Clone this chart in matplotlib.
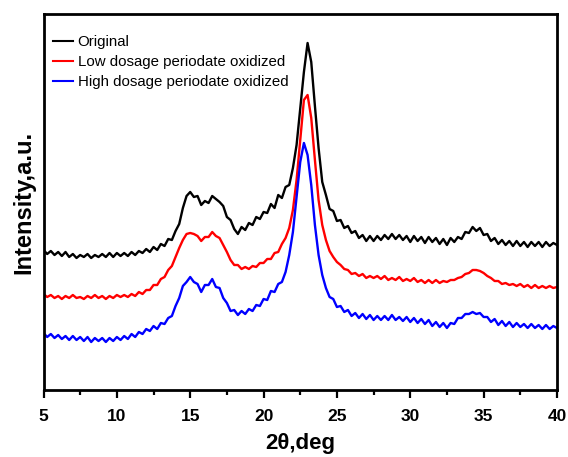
import numpy as np
import matplotlib
matplotlib.use("Agg")
import matplotlib.pyplot as plt
from matplotlib.ticker import MultipleLocator

# 2-theta scan grid (deg)
two_theta = np.arange(5.0, 40.001, 0.25)

# Intensities (a.u.)
original = [
    141, 137, 140, 136, 139, 135, 139, 134, 137, 133, 136, 134,
    137, 133, 136, 134, 137, 134, 138, 134, 138, 135, 138, 135,
    139, 136, 140, 138, 142, 139, 144, 141, 147, 145, 152, 151,
    160, 167, 183, 195, 199, 194, 195, 186, 190, 188, 195, 192,
    189, 185, 174, 171, 162, 157, 164, 161, 168, 166, 174, 172,
    179, 178, 187, 183, 196, 193, 204, 206, 223, 246, 283, 319,
    348, 329, 285, 243, 209, 196, 182, 180, 170, 171, 163, 165,
    158, 160, 153, 156, 150, 155, 150, 155, 151, 156, 152, 157,
    152, 156, 151, 155, 149, 155, 150, 154, 148, 154, 149, 153,
    147, 152, 146, 153, 149, 154, 152, 159, 158, 164, 160, 163,
    156, 157, 150, 153, 147, 151, 146, 150, 145, 150, 145, 149,
    144, 149, 145, 149, 144, 149, 145, 148, 146,
]
low_dosage = [
    97, 94, 96, 93, 95, 92, 95, 93, 96, 93, 94, 92,
    95, 93, 96, 93, 95, 92, 95, 93, 96, 94, 96, 94,
    97, 95, 99, 97, 101, 101, 106, 106, 112, 114, 121, 125,
    134, 143, 151, 157, 158, 157, 155, 150, 154, 154, 159, 155,
    153, 146, 139, 131, 126, 126, 122, 124, 122, 125, 124, 128,
    128, 132, 132, 138, 139, 147, 153, 163, 181, 211, 251, 291,
    296, 273, 231, 191, 166, 151, 140, 134, 129, 126, 122, 121,
    117, 118, 115, 117, 113, 115, 113, 115, 112, 115, 111, 113,
    111, 114, 110, 112, 110, 113, 109, 111, 108, 111, 108, 111,
    108, 110, 109, 111, 111, 113, 114, 117, 118, 121, 121, 120,
    118, 115, 113, 110, 110, 107, 108, 106, 107, 105, 107, 104,
    106, 103, 106, 103, 105, 103, 105, 103, 104,
]
high_dosage = [
    58, 54, 57, 53, 56, 52, 55, 51, 55, 51, 54, 50,
    54, 49, 53, 50, 53, 49, 53, 50, 54, 51, 55, 52,
    57, 54, 59, 57, 62, 60, 65, 62, 68, 67, 73, 75,
    85, 93, 105, 109, 114, 109, 107, 99, 106, 106, 112, 104,
    103, 93, 88, 80, 81, 76, 80, 77, 82, 80, 86, 85,
    92, 91, 100, 99, 107, 109, 119, 136, 159, 194, 229, 248,
    236, 206, 166, 136, 116, 103, 94, 92, 84, 85, 79, 81,
    75, 78, 73, 77, 72, 76, 71, 75, 71, 75, 71, 76,
    71, 74, 70, 74, 69, 73, 68, 72, 67, 71, 65, 69,
    64, 68, 63, 68, 67, 73, 73, 77, 77, 79, 77, 78,
    74, 74, 69, 72, 66, 70, 65, 69, 64, 68, 64, 67,
    63, 67, 63, 66, 62, 66, 62, 65, 63,
]

labels = ["Original", "Low dosage periodate oxidized", "High dosage periodate oxidized"]
colors = ["#000000", "#ff0000", "#0000ff"]
xticks = [5, 10, 15, 20, 25, 30, 35, 40]

plt.rcParams['font.family'] = ['Liberation Sans', 'DejaVu Sans']

fig = plt.figure(figsize=(5.68, 4.57), dpi=100)
ax = fig.add_axes([0.0766, 0.1466, 0.9040, 0.8228])

for series, lab, col in zip([original, low_dosage, high_dosage], labels, colors):
    ax.plot(two_theta[:len(series)], series, color=col, lw=1.7, label=lab)

ax.set_xlim(5, 40)
ax.set_ylim(1, 377)
ax.set_xticks(xticks)
ax.set_xticklabels([str(t) for t in xticks], fontsize=12.5, fontweight='bold')
ax.xaxis.set_minor_locator(MultipleLocator(2.5))
ax.set_yticks([])
ax.tick_params(axis='x', which='major', direction='out', length=6, width=1.6, pad=8)
ax.tick_params(axis='x', which='minor', direction='out', length=3.5, width=1.6)
for sp in ax.spines.values():
    sp.set_linewidth(2.0)

ax.set_xlabel("2θ,deg", fontsize=16, fontweight='bold', labelpad=6)
ax.set_ylabel("Intensity,a.u.", fontsize=17, fontweight='bold', labelpad=6)

leg = ax.legend(loc='upper left', bbox_to_anchor=(0.018, 0.943), frameon=False,
                fontsize=10.8, handlelength=1.35, handletextpad=0.3,
                labelspacing=0.38, borderpad=0, borderaxespad=0)
for line in leg.get_lines():
    line.set_linewidth(1.5)

fig.savefig("out.png", dpi=100)
